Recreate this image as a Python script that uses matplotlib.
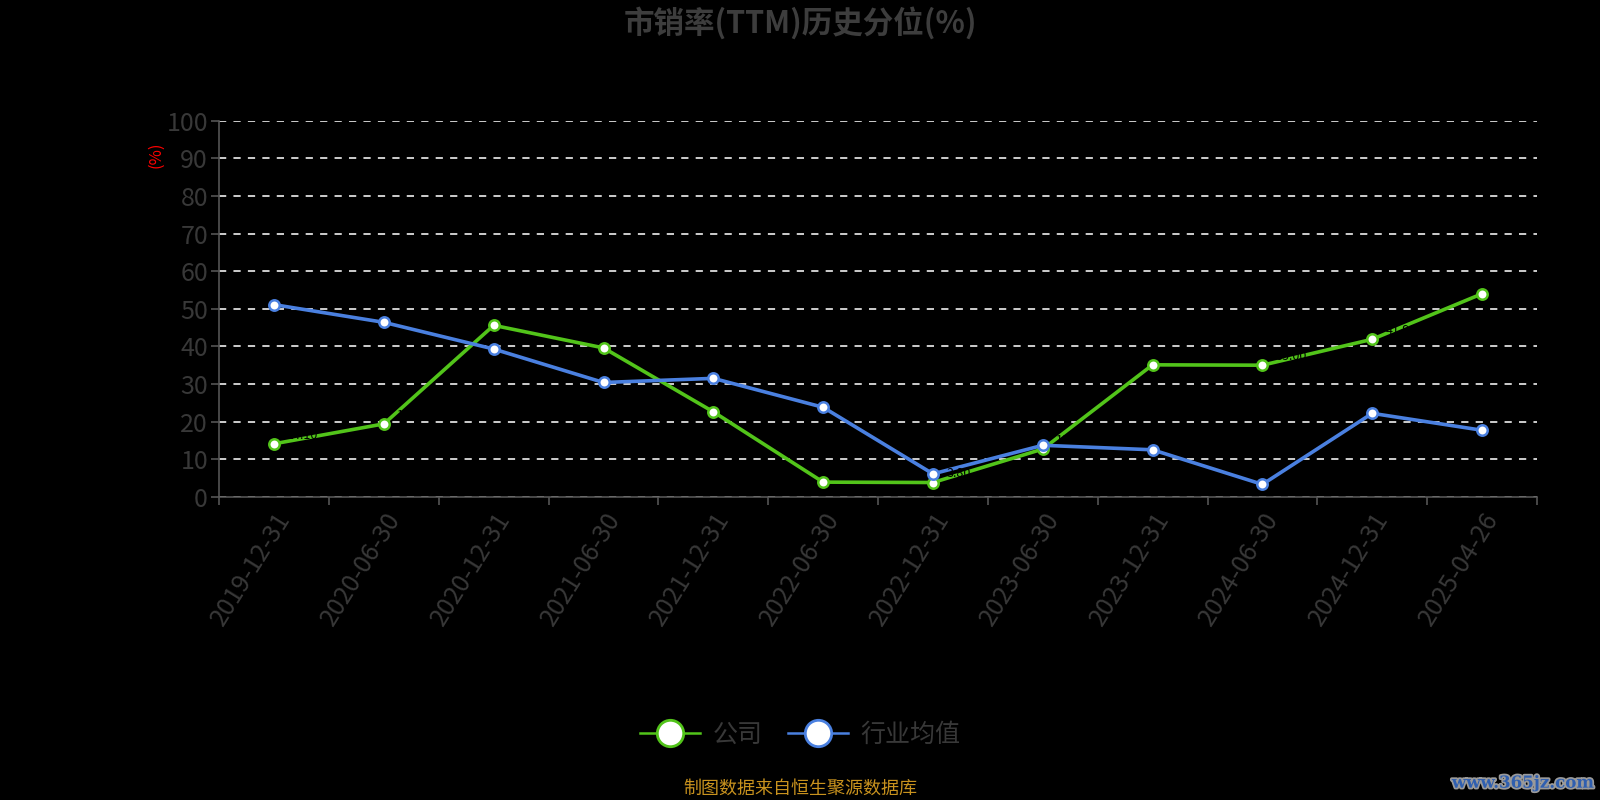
import matplotlib
matplotlib.use("Agg")
import matplotlib.pyplot as plt
import matplotlib.patheffects as pe
from matplotlib.lines import Line2D
import numpy as np

plt.rcParams['font.family'] = ['Noto Sans CJK SC', 'DejaVu Sans']

# data
dates = ['2019-12-31', '2020-06-30', '2020-12-31', '2021-06-30', '2021-12-31', '2022-06-30',
         '2022-12-31', '2023-06-30', '2023-12-31', '2024-06-30', '2024-12-31', '2025-04-26']
company = [14.1, 19.4, 45.6, 39.6, 22.6, 3.9, 3.8, 12.7, 35.1, 35.0, 41.9, 54.0]
industry = [51.1, 46.4, 39.3, 30.4, 31.5, 23.8, 6.1, 13.7, 12.5, 3.3, 22.2, 17.7]

green = '#52c41a'
blue = '#4a80e0'
gray = '#383838'

fig = plt.figure(figsize=(16, 8), dpi=100, facecolor='black')
ax = fig.add_axes([0.137, 0.379, 0.8236, 0.47])
ax.set_facecolor('black')

x = np.arange(len(dates))
ax.plot(x, company, color=green, lw=2.6, marker='o', ms=7.5, mfc='white', mec=green, mew=1.8, zorder=3)
ax.plot(x, industry, color=blue, lw=2.6, marker='o', ms=7.5, mfc='white', mec=blue, mew=1.8, zorder=3)

# black value labels on company line (barely visible, as in reference)
for xi, v in zip(x, company):
    ax.text(xi + 0.12, v + 0.6, f'{v:.2f}', color='black', fontsize=9, ha='left', va='bottom', zorder=4)

ax.set_xlim(-0.5, len(dates) - 0.5)
ax.set_ylim(0, 100)
ax.set_yticks(np.arange(0, 101, 10))
ax.grid(axis='y', color='#dddddd', ls=(0, (4, 4)), lw=1.3)
ax.set_axisbelow(True)

ax.set_xticks(x)
ax.set_xticklabels(dates, rotation=58, ha='right', rotation_mode='anchor')
ax.set_xticks(np.arange(-0.5, len(dates), 1), minor=True)
ax.tick_params(axis='x', which='major', length=0, pad=8, labelsize=18, labelcolor=gray)
ax.tick_params(axis='x', which='minor', length=6, color='#555555', width=1.2)
ax.tick_params(axis='y', length=6, color='#555555', width=1.2, labelsize=18, labelcolor=gray, pad=2)

for s in ['top', 'right']:
    ax.spines[s].set_visible(False)
for s in ['left', 'bottom']:
    ax.spines[s].set_color('#555555')
    ax.spines[s].set_linewidth(1.2)

fig.text(0.5, 0.971, '市销率(TTM)历史分位(%)', ha='center', va='center', fontsize=22,
         fontweight='bold', color='#3d3d3d')
fig.text(0.0975, 0.806, '(%)', rotation=90, ha='center', va='center', fontsize=12, color='red')

handles = [Line2D([], [], color=green, lw=1.8, marker='o', ms=19, mfc='white', mec=green, mew=2),
           Line2D([], [], color=blue, lw=1.8, marker='o', ms=19, mfc='white', mec=blue, mew=2)]
fig.legend(handles, ['公司', '行业均值'], loc='center', bbox_to_anchor=(0.5, 0.081), ncol=2,
           frameon=False, fontsize=18, labelcolor=gray, handlelength=2.4, columnspacing=1.0,
           handletextpad=0.5)

fig.text(0.5, 0.014, '制图数据来自恒生聚源数据库', ha='center', va='center', fontsize=13, color='#c8921e')
fig.text(0.996, 0.021, 'www.365jz.com', ha='right', va='center', fontsize=12, fontweight='bold',
         family='DejaVu Serif', color='#2f5fb0',
         path_effects=[pe.withStroke(linewidth=2.5, foreground='#9a9a9a')])

fig.savefig('out.png', dpi=100, facecolor='black')
